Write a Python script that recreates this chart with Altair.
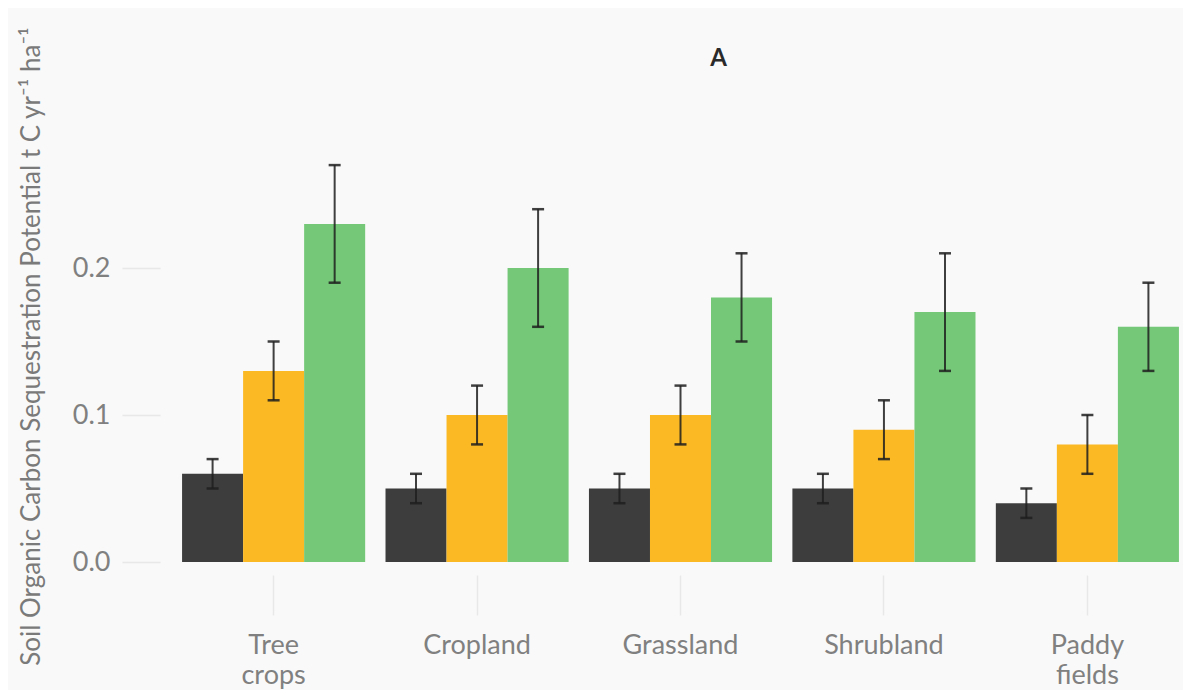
import altair as alt
import pandas as pd

categories = ["Tree crops", "Cropland", "Grassland", "Shrubland", "Paddy fields"]
series = ["Low", "Medium", "High"]
colors = ["#3d3d3d", "#fbb924", "#74c877"]

low_vals = [0.06, 0.05, 0.05, 0.05, 0.04]
low_lo = [0.05, 0.04, 0.04, 0.04, 0.03]
low_hi = [0.07, 0.06, 0.06, 0.06, 0.05]

med_vals = [0.13, 0.10, 0.10, 0.09, 0.08]
med_lo = [0.11, 0.08, 0.08, 0.07, 0.06]
med_hi = [0.15, 0.12, 0.12, 0.11, 0.10]

high_vals = [0.23, 0.20, 0.18, 0.17, 0.16]
high_lo = [0.19, 0.16, 0.15, 0.13, 0.13]
high_hi = [0.27, 0.24, 0.21, 0.21, 0.19]

rows = []
for s, vals, los, his in [
    ("Low", low_vals, low_lo, low_hi),
    ("Medium", med_vals, med_lo, med_hi),
    ("High", high_vals, high_lo, high_hi),
]:
    for c, v, lo, hi in zip(categories, vals, los, his):
        rows.append({"category": c, "series": s, "value": v, "lo": lo, "hi": hi})
df = pd.DataFrame(rows)

FONT = "Lato"

x_enc = alt.X(
    "category:N",
    sort=categories,
    scale=alt.Scale(paddingInner=0.1, paddingOuter=0.02),
    axis=alt.Axis(
        title=None,
        labelAngle=0,
        labelFont=FONT,
        labelFontSize=27,
        labelColor="#808080",
        labelPadding=17,
        labelLineHeight=30,
        labelExpr="split(datum.label, ' ')",
        offset=13,
        tickSize=40,
        tickColor="#e8e8e8",
        tickWidth=1.5,
        domain=False,
        grid=False,
    ),
)
xoff_enc = alt.XOffset("series:N", sort=series, scale=alt.Scale(paddingInner=0, paddingOuter=0))
y_axis = alt.Axis(
    title="Soil Organic Carbon Sequestration Potential  t C yr\u207b\u00b9 ha\u207b\u00b9",
    titleFont=FONT,
    titleFontSize=26,
    titleFontWeight="normal",
    titleColor="#7a7a7a",
    titleX=-129,
    titleY=225,
    titleAngle=270,
    titleAlign="center",
    titleBaseline="middle",
    values=[0.0, 0.1, 0.2],
    format=".1f",
    labelFont=FONT,
    labelFontSize=27,
    labelColor="#808080",
    labelPadding=12,
    offset=18,
    tickSize=38,
    tickColor="#e8e8e8",
    tickWidth=1.5,
    domain=False,
    grid=False,
)
y_scale = alt.Scale(domain=[0, 0.3], nice=False)

base = alt.Chart(df)

bars = base.mark_bar().encode(
    x=x_enc,
    xOffset=xoff_enc,
    y=alt.Y("value:Q", scale=y_scale, axis=y_axis),
    color=alt.Color("series:N", sort=series, scale=alt.Scale(domain=series, range=colors), legend=None),
)

err = base.mark_rule(color="#1e1e1e", strokeWidth=2, opacity=0.85).encode(
    x=x_enc,
    xOffset=xoff_enc,
    y=alt.Y("lo:Q", scale=y_scale, axis=y_axis),
    y2="hi:Q",
)
cap_lo = base.mark_tick(color="#1e1e1e", size=12, thickness=2.5, opacity=0.85).encode(
    x=x_enc,
    xOffset=xoff_enc,
    y=alt.Y("lo:Q", scale=y_scale, axis=y_axis),
)
cap_hi = base.mark_tick(color="#1e1e1e", size=12, thickness=2.5, opacity=0.85).encode(
    x=x_enc,
    xOffset=xoff_enc,
    y=alt.Y("hi:Q", scale=y_scale, axis=y_axis),
)

chart = (
    alt.layer(bars, err, cap_lo, cap_hi)
    .properties(
        width=1005,
        height=441,
        title=alt.TitleParams(
            "A",
            font=FONT,
            fontSize=24,
            fontWeight="bold",
            color="#2a2a2a",
            anchor="middle",
            frame="group",
            dx=38,
            offset=-48,
        ),
        autosize=alt.AutoSizeParams(type="none"),
        padding={"left": 170, "top": 113, "right": 0, "bottom": 128},
        background="#f9f9f9",
    )
    .configure_view(stroke=None)
)

chart.save("out.html", embed_options={"renderer": "svg", "actions": False})
